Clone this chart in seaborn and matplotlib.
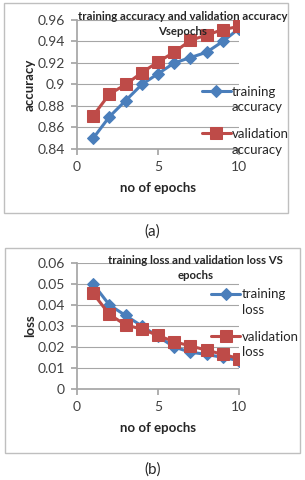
import numpy as np
import pandas as pd
import matplotlib
matplotlib.use("Agg")
import matplotlib.pyplot as plt
from matplotlib.patches import Rectangle
import seaborn as sns

# data
epochs = [1, 2, 3, 4, 5, 6, 7, 8, 9, 10]
train_acc = [0.850, 0.870, 0.885, 0.900, 0.910, 0.920, 0.925, 0.930, 0.940, 0.952]
val_acc = [0.871, 0.891, 0.900, 0.911, 0.921, 0.930, 0.941, 0.946, 0.951, 0.954]
train_loss = [0.050, 0.040, 0.035, 0.030, 0.025, 0.020, 0.0175, 0.0165, 0.0150, 0.0135]
val_loss = [0.0455, 0.0355, 0.0305, 0.0285, 0.0255, 0.0225, 0.0205, 0.0185, 0.0165, 0.0145]

acc_ticks = [0.84, 0.86, 0.88, 0.9, 0.92, 0.94, 0.96]
loss_ticks = [0, 0.01, 0.02, 0.03, 0.04, 0.05, 0.06]

BLUE = "#4A7EBB"
RED = "#BE4B48"

sns.set_theme(style="white")
plt.rcParams["font.family"] = ["Lato", "DejaVu Sans"]

fig = plt.figure(figsize=(3.05, 4.8), dpi=100)

# panel frames
fig.patches.append(Rectangle((0.013, 0.556), 0.931, 0.438, transform=fig.transFigure,
                             fill=False, edgecolor="#BFBFBF", linewidth=1.0))
fig.patches.append(Rectangle((0.016, 0.056), 0.967, 0.428, transform=fig.transFigure,
                             fill=False, edgecolor="#BFBFBF", linewidth=1.0))


def panel(rect, s1, s2, names, second, ticks, ylabel, title, title_xy, leg_xy):
    ax = fig.add_axes(rect)
    df = pd.DataFrame({"epoch": epochs, "a": s1, "b": s2})
    sns.lineplot(data=df, x="epoch", y="a", ax=ax, color=BLUE, marker="D",
                 markersize=6, markeredgecolor=BLUE, linewidth=2.2, label=names[0])
    sns.lineplot(data=df, x="epoch", y="b", ax=ax, color=RED, marker="s",
                 markersize=9, markeredgecolor=RED, linewidth=2.2, label=names[1])
    ax.set_xlim(0, 10)
    ax.set_ylim(ticks[0], ticks[-1])
    ax.set_xticks([0, 5, 10])
    ax.set_yticks(ticks)
    ax.set_yticklabels([("%g" % t) for t in ticks])
    ax.yaxis.grid(True, color="#A6A6A6", linewidth=0.8)
    ax.set_axisbelow(True)
    for side in ["top", "right"]:
        ax.spines[side].set_visible(False)
    ax.spines["left"].set_color("#A6A6A6")
    ax.spines["bottom"].set_color("#A6A6A6")
    ax.tick_params(axis="both", labelsize=10, colors="#404040", length=4,
                   direction="out", left=True, bottom=True, color="#A6A6A6")
    ax.tick_params(axis="y", pad=5)
    ax.tick_params(axis="x", pad=5)
    ax.set_xlabel("no of epochs", fontsize=9.5, fontweight="bold", labelpad=6)
    ax.set_ylabel(ylabel, fontsize=9.5, fontweight="bold", labelpad=1)
    ax.text(title_xy[0], title_xy[1], title, transform=ax.transAxes, ha="center",
            va="top", fontsize=8.2, fontweight="bold", linespacing=1.45)
    leg = ax.legend(loc="upper left", bbox_to_anchor=leg_xy, frameon=False,
                    fontsize=9.5, handlelength=2.2, handletextpad=0.1,
                    labelspacing=2.3, borderaxespad=0, borderpad=0)
    # second line of each legend label, wrapped like the original
    for txt, word in zip(leg.get_texts(), second):
        ax.annotate(word, xy=(0, 0), xycoords=txt, xytext=(0, -2.5),
                    textcoords="offset points", ha="left", va="top",
                    fontsize=9.5, color=txt.get_color(), zorder=10)
    return ax


panel([0.2525, 0.6896, 0.531, 0.2688], train_acc, val_acc,
      ["training", "validation"], ["accuracy", "accuracy"], acc_ticks, "accuracy",
      "training accuracy and validation accuracy\nVsepochs", (0.65, 1.068), (0.77, 0.49))
panel([0.2525, 0.1896, 0.531, 0.2625], train_loss, val_loss,
      ["training", "validation"], ["loss", "loss"], loss_ticks, "loss",
      "training loss and validation loss VS\nepochs", (0.73, 1.065), (0.83, 0.80))

fig.text(0.5, 0.517, "(a)", ha="center", va="center", fontsize=11)
fig.text(0.5, 0.021, "(b)", ha="center", va="center", fontsize=11)

fig.savefig("out.png", dpi=100)
